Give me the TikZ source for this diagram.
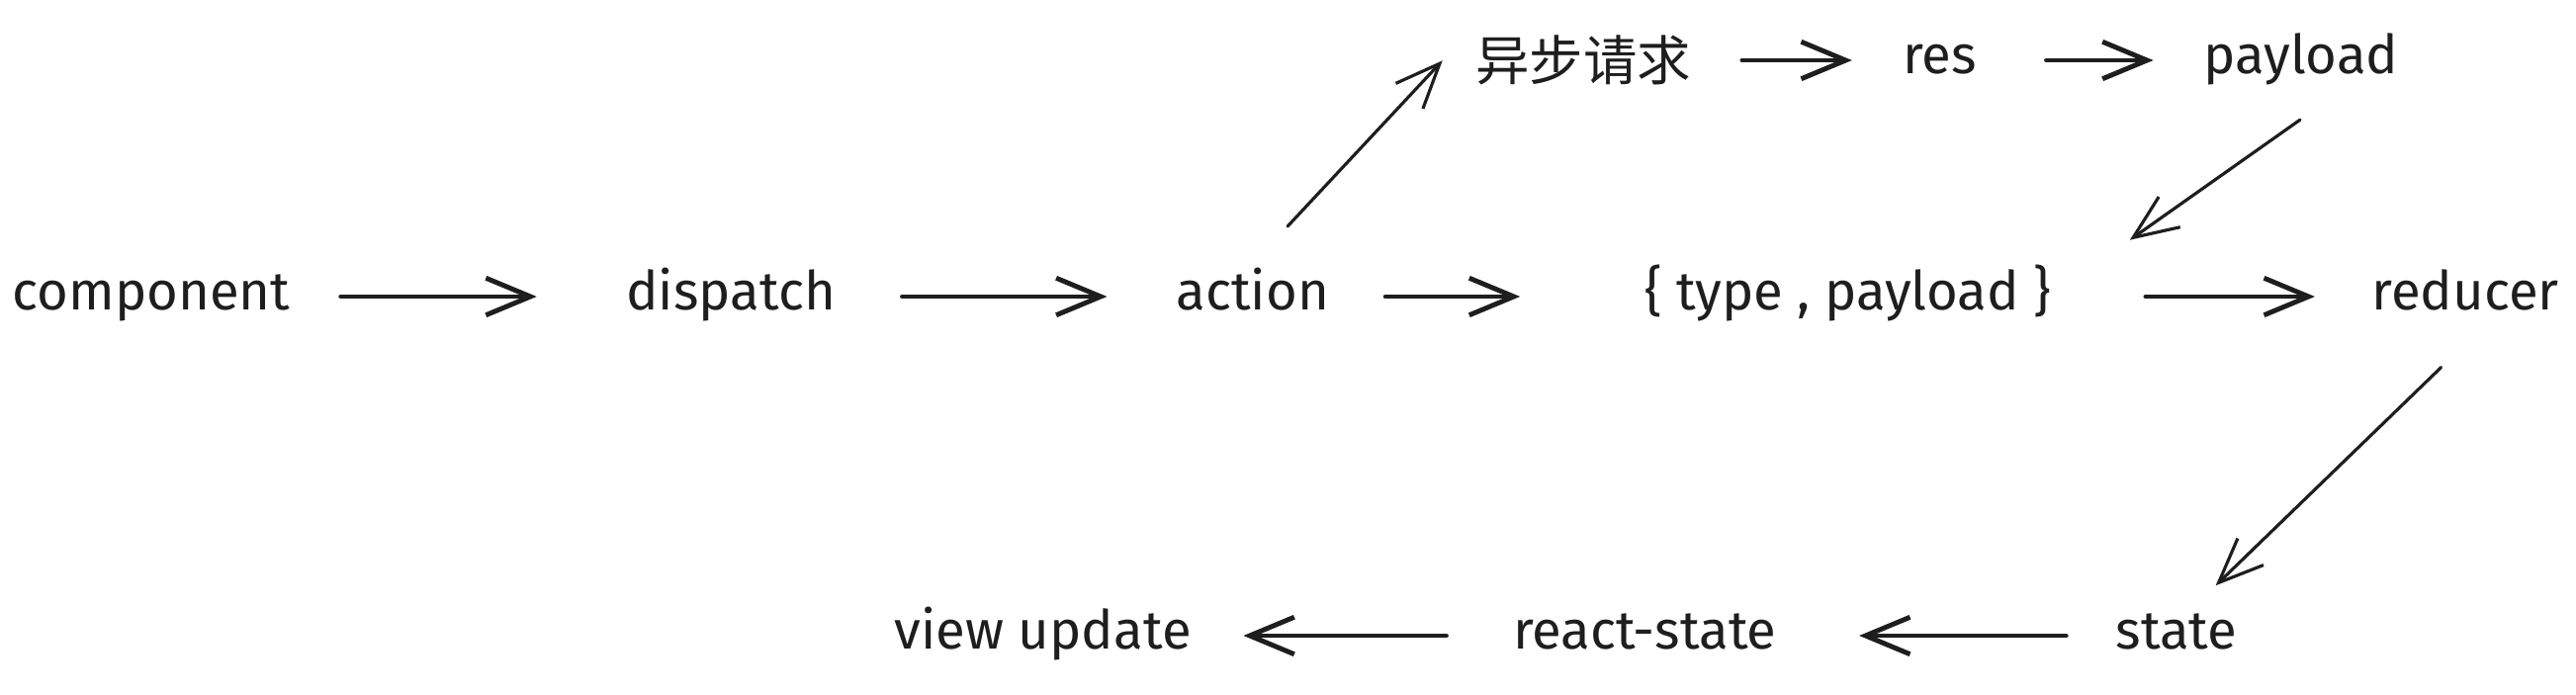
\documentclass[tikz,border=0pt]{standalone}
\usepackage{fontspec}
\setmainfont{Fira Sans}
\newfontfamily\cjk{Noto Sans CJK SC}
\usetikzlibrary{arrows.meta,positioning}
\definecolor{skInk}{HTML}{1E1E1E}

\begin{document}
\begin{tikzpicture}[
  x=0.2mm,y=-0.2mm,
  font=\fontsize{31}{36}\selectfont,
  lbl/.style={text=skInk,inner sep=0pt,minimum height=13.2mm,
              text height=23.2pt,text depth=7.8pt,align=center},
  han/.style={lbl,font=\cjk\fontsize{31}{36}\selectfont,
              text height=27.3pt,text depth=3.7pt},
  ar/.style={-{Straight Barb[length=9mm,width=7.5mm]},draw=skInk,
             line width=2.8pt,line cap=round},
  dg/.style={ar,line width=1.8pt}]
\useasboundingbox (0,0) rectangle (2605,703);

\node[lbl,minimum width=53.2mm] (comp) at (153,300) {component};
\node[lbl,minimum width=45.2mm,right=66.4mm of comp] (disp) {dispatch};
\node[lbl,minimum width=33.2mm,right=66.2mm of disp] (act) {action};
\node[lbl,minimum width=100.4mm,right=53.4mm of act] (msg) {\{ type , payload \}};
\node[lbl,minimum width=40.8mm,right=54.2mm of msg] (red) {reducer};

\node[han,minimum width=44.2mm] (req) at (1601,61) {异步请求};
\node[lbl,minimum width=16.6mm,right=41.6mm of req] (res) {res};
\node[lbl,minimum width=41.6mm,right=43.8mm of res] (pay) {payload};

\node[lbl,minimum width=31.8mm] (st) at (2201,643) {state};
\node[lbl,minimum width=67.8mm,left=57.6mm of st] (rst) {react-state};
\node[lbl,minimum width=65mm,left=55.2mm of rst] (view) {view update};

\draw[ar,shorten <=10.2mm,shorten >=16.6mm] (comp.east) -- (disp.west);
\draw[ar,shorten <=12mm,shorten >=12.8mm] (disp.east) -- (act.west);
\draw[ar,shorten <=10.2mm,shorten >=16mm] (act.east) -- (msg.west);
\draw[ar,shorten <=10mm,shorten >=10mm] (msg.east) -- (red.west);
\draw[ar,shorten <=10mm,shorten >=9.4mm] (req.east) -- (res.west);
\draw[ar,shorten <=13.2mm,shorten >=9mm] (res.east) -- (pay.west);
\draw[dg,shorten <=10.3mm,shorten >=9.2mm] (act.north) -- (req.north west);
\draw[dg,shorten <=9.3mm,shorten >=8.3mm] (pay.-42) -- (msg.north east);
\draw[dg,shorten <=11mm,shorten >=5mm] (red.-66) -- (st.57);
\draw[ar,shorten <=6.4mm,shorten >=9.4mm] (st.west) -- (rst.east);
\draw[ar,shorten <=6.2mm,shorten >=8mm] (rst.west) -- (view.east);
\end{tikzpicture}
\end{document}
